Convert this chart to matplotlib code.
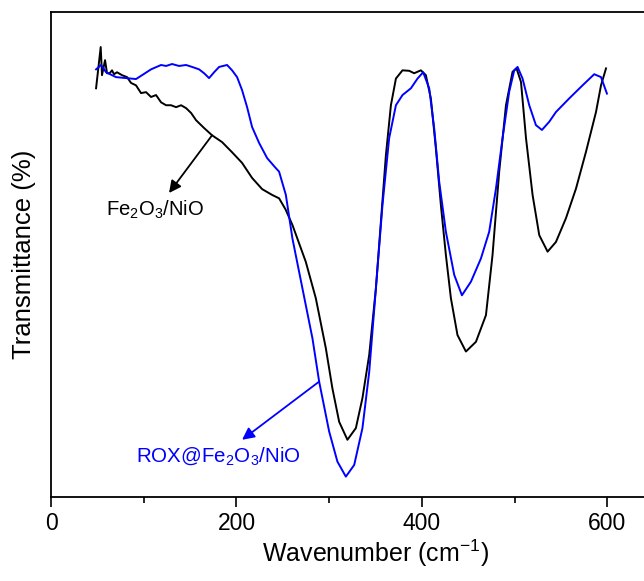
import matplotlib
matplotlib.use("Agg")
import matplotlib.pyplot as plt
from matplotlib.ticker import MultipleLocator

plt.rcParams["font.family"] = ["Liberation Sans", "DejaVu Sans"]
plt.rcParams["mathtext.default"] = "regular"

# Far-IR spectrum of Fe2O3/NiO
wn_fe = [48.6, 53.6, 55.0, 58.3, 60.4, 63.3, 65.8, 68.0, 71.2, 76.6, 82.0, 86.3,
         91.7, 97.1, 102.5, 107.9, 113.3, 118.7, 124.1, 129.5, 134.9, 140.3, 145.7,
         151.1, 156.5, 165.1, 173.7, 184.5, 195.3, 206.1, 216.9, 227.7, 238.5,
         246.0, 253.0, 260.4, 274.8, 285.6, 296.4, 303.5, 310.8, 319.7, 328.8,
         335.9, 343.2, 350.4, 355.8, 361.2, 366.6, 372.0, 379.1, 386.3, 391.7,
         398.9, 404.3, 409.7, 415.1, 420.5, 425.9, 431.3, 438.4, 447.5, 458.3,
         469.1, 476.2, 483.4, 490.7, 497.8, 502.1, 506.9, 512.3, 519.4, 526.6,
         535.6, 544.6, 555.4, 566.2, 577.0, 587.8, 593.2, 598.6]
t_fe = [84.3, 92.8, 87.0, 90.1, 87.4, 87.4, 88.0, 87.2, 87.6, 87.0, 86.6, 85.4,
        84.9, 83.3, 83.5, 82.5, 82.9, 81.4, 80.8, 80.8, 80.4, 80.8, 80.2,
        79.2, 77.7, 76.1, 74.6, 73.2, 71.1, 68.9, 65.8, 63.5, 62.3,
        61.6, 59.3, 56.1, 48.5, 41.0, 30.7, 22.4, 15.5, 11.8, 14.2,
        20.4, 29.3, 43.0, 56.8, 70.5, 80.8, 86.3, 88.0, 87.9, 87.4,
        88.0, 87.0, 82.2, 71.9, 60.2, 49.9, 41.0, 33.4, 30.0, 32.0,
        37.5, 49.9, 67.1, 80.8, 87.7, 88.4, 85.6, 74.0, 62.3, 54.0,
        50.6, 52.6, 57.5, 63.6, 71.2, 79.4, 84.9, 88.4]

# Far-IR spectrum of ROX@Fe2O3/NiO
wn_rox = [48.6, 54.0, 59.4, 70.1, 80.9, 91.7, 98.2, 107.9, 118.7, 124.1, 130.6,
          138.1, 145.7, 152.2, 159.7, 165.1, 170.5, 175.9, 181.3, 189.9, 195.3,
          200.7, 206.1, 211.5, 216.9, 224.5, 233.1, 241.7, 246.0, 253.3, 260.4,
          271.2, 282.0, 289.2, 300.0, 308.9, 318.0, 327.0, 335.9, 343.2, 350.4,
          357.5, 364.7, 372.0, 379.1, 388.2, 395.3, 401.4, 407.9, 413.3, 418.7,
          425.9, 434.9, 443.2, 452.9, 463.7, 472.6, 479.9, 487.0, 494.2, 499.6,
          503.2, 508.6, 515.8, 523.0, 529.5, 537.4, 544.6, 558.9, 573.3, 585.9,
          593.2, 599.6]
t_rox = [88.2, 89.1, 87.6, 86.6, 86.4, 86.2, 87.0, 88.2, 89.1, 88.9, 89.3,
         88.9, 89.1, 88.7, 88.2, 87.4, 86.4, 87.6, 88.7, 89.1, 88.0,
         86.6, 83.9, 80.4, 76.3, 73.0, 69.9, 68.0, 67.1, 62.3, 53.3,
         43.0, 32.7, 23.8, 13.5, 7.3, 4.2, 6.6, 14.2, 25.8, 43.0,
         60.2, 74.0, 80.8, 82.9, 84.3, 86.3, 87.6, 84.3, 76.0, 65.0,
         54.7, 45.8, 41.6, 44.4, 49.2, 54.7, 63.6, 74.0, 83.6, 88.0,
         88.7, 86.3, 80.8, 76.7, 75.7, 77.4, 79.4, 82.2, 84.9, 87.2,
         86.6, 83.2]

fig = plt.figure(figsize=(6.44, 5.81), dpi=100)
# the plot frame runs past the right edge of the canvas
ax = fig.add_axes([0.0792, 0.1446, 1.0078, 0.8345])

ax.plot(wn_fe, t_fe, color="black", lw=1.4, solid_joinstyle="round")
ax.plot(wn_rox, t_rox, color="#0000ff", lw=1.4, solid_joinstyle="round")

ax.set_xlim(0, 700)
ax.set_ylim(0, 100)

ax.xaxis.set_major_locator(MultipleLocator(200))
ax.xaxis.set_minor_locator(MultipleLocator(100))
ax.tick_params(axis="x", which="major", direction="out", length=7, width=1.2,
               labelsize=16.5, pad=4)
ax.tick_params(axis="x", which="minor", direction="out", length=4, width=1.2)
ax.set_yticks([])
ax.spines["right"].set_visible(False)
for s in ("left", "top", "bottom"):
    ax.spines[s].set_linewidth(1.3)

ax.set_xlabel("Wavenumber (cm$^{-1}$)", fontsize=18, labelpad=2)
ax.set_ylabel("Transmittance (%)", fontsize=18.5, labelpad=11)

ax.annotate("", xy=(127.3, 62.7), xytext=(173.7, 74.6),
            arrowprops=dict(arrowstyle="-|>", color="black", lw=1.3,
                            mutation_scale=18, shrinkA=0, shrinkB=0))
ax.text(112, 59.2, "Fe$_2$O$_3$/NiO", fontsize=14.6, color="black",
        ha="center", va="center")

ax.annotate("", xy=(206.1, 11.8), xytext=(289.2, 23.8),
            arrowprops=dict(arrowstyle="-|>", color="#0000ff", lw=1.3,
                            mutation_scale=18, shrinkA=0, shrinkB=0))
ax.text(180.2, 8.5, "ROX@Fe$_2$O$_3$/NiO", fontsize=14.8, color="#0000ff",
        ha="center", va="center")

fig.savefig("out.png", dpi=100)
